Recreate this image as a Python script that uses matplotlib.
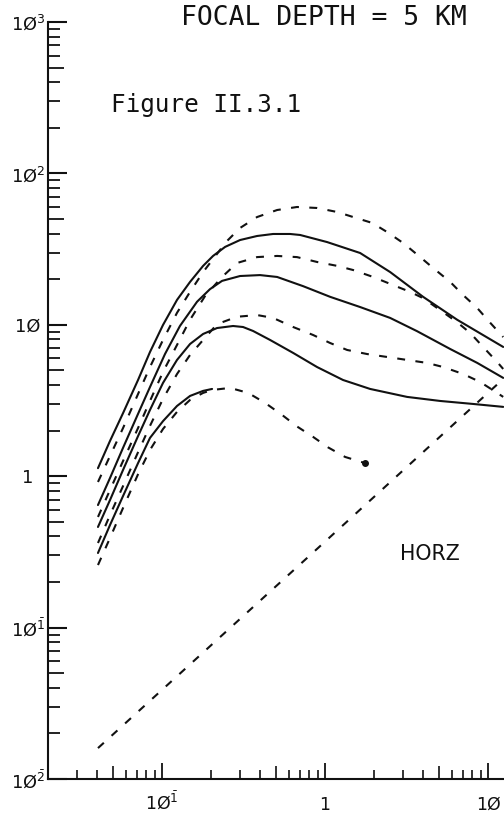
import math
import matplotlib
matplotlib.use("Agg")
import matplotlib.pyplot as plt
from matplotlib.ticker import FixedLocator, FixedFormatter, NullFormatter

# ---- spectral amplitude curves (frequency, amplitude) ----
s1_x = [0.0405, 0.0480, 0.0577, 0.0713, 0.0844, 0.1014, 0.1236, 0.1486, 0.1787,
        0.2056, 0.2438, 0.301, 0.3828, 0.480, 0.610, 0.703, 1.028, 1.640,
        2.506, 3.99, 6.45, 12.36]
s1_y = [1.13, 1.71, 2.61, 4.32, 6.61, 9.97, 14.6, 19.2, 24.5,
        28.5, 32.7, 36.3, 38.6, 39.8, 39.8, 39.2, 35.2, 29.8,
        22.3, 15.3, 10.8, 7.14]

d1_x = [0.0405, 0.0480, 0.0577, 0.0713, 0.0844, 0.1014, 0.1236, 0.1486, 0.1787,
        0.2056, 0.2506, 0.301, 0.3828, 0.508, 0.673, 0.893, 1.186, 1.486,
        1.942, 2.40, 3.01, 3.83, 4.60, 5.85, 7.03, 8.57, 10.3, 12.36]
d1_y = [0.916, 1.36, 2.08, 3.49, 5.26, 7.94, 12.0, 16.5, 22.3,
        27.2, 35.8, 43.6, 51.5, 57.3, 60.0, 59.1, 55.6, 51.5,
        47.1, 41.0, 34.7, 28.0, 23.7, 19.2, 15.7, 12.9, 10.3, 8.30]

s2_x = [0.0405, 0.0480, 0.0577, 0.0713, 0.0844, 0.1043, 0.1288, 0.1640, 0.1969,
        0.2334, 0.301, 0.399, 0.508, 0.733, 1.074, 1.640, 2.506, 3.66,
        5.85, 8.57, 12.36]
s2_y = [0.645, 0.973, 1.54, 2.58, 3.88, 6.41, 9.82, 14.2, 17.2,
        19.5, 21.0, 21.3, 20.7, 18.0, 15.3, 13.1, 11.1, 9.08,
        6.92, 5.60, 4.46]

d2_x = [0.0405, 0.0480, 0.0577, 0.0713, 0.0844, 0.1014, 0.1236, 0.1486, 0.1837,
        0.2334, 0.2884, 0.3828, 0.508, 0.673, 0.893, 1.186, 1.486, 1.97,
        2.61, 3.32, 3.99, 5.08, 6.45, 7.76, 9.32, 11.35, 12.36]
d2_y = [0.538, 0.811, 1.26, 2.08, 3.14, 4.88, 7.36, 10.8, 15.5,
        20.7, 25.6, 28.0, 28.5, 28.0, 26.0, 24.5, 23.0, 20.7,
        18.3, 16.5, 15.0, 12.5, 10.4, 8.83, 7.13, 5.68, 5.11]

s3_x = [0.0405, 0.0480, 0.0577, 0.0713, 0.0844, 0.1014, 0.1236, 0.1486, 0.1787,
        0.2175, 0.2727, 0.314, 0.362, 0.460, 0.637, 0.893, 1.288, 1.888,
        3.18, 5.08, 8.09, 12.36]
s3_y = [0.462, 0.696, 1.10, 1.84, 2.74, 4.13, 5.86, 7.47, 8.70,
        9.52, 9.82, 9.67, 9.10, 7.94, 6.52, 5.26, 4.32, 3.77,
        3.34, 3.14, 3.00, 2.87]

d3_x = [0.0405, 0.0480, 0.0577, 0.0713, 0.0844, 0.1014, 0.1236, 0.1486, 0.1787,
        0.2175, 0.2884, 0.3828, 0.480, 0.637, 0.843, 1.074, 1.365, 1.81,
        2.40, 3.18, 4.22, 5.30, 7.03, 8.93, 11.35, 12.36]
d3_y = [0.362, 0.554, 0.861, 1.44, 2.15, 3.24, 4.73, 6.32, 7.94,
        10.1, 11.3, 11.6, 11.1, 9.67, 8.57, 7.58, 6.82, 6.41,
        6.13, 5.86, 5.60, 5.26, 4.73, 4.19, 3.55, 3.34]

s4_x = [0.0405, 0.0480, 0.0577, 0.0713, 0.0844, 0.1014, 0.1236, 0.1486, 0.1787,
        0.2028]
s4_y = [0.311, 0.476, 0.740, 1.22, 1.79, 2.31, 2.91, 3.39, 3.66,
        3.77]

d4_x = [0.0405, 0.0480, 0.0577, 0.0713, 0.0844, 0.1014, 0.1236, 0.1486, 0.1787,
        0.2028, 0.2612, 0.3373, 0.4285, 0.5445, 0.673, 0.843, 1.043, 1.327,
        1.76]
d4_y = [0.259, 0.391, 0.617, 1.03, 1.49, 2.05, 2.66, 3.19, 3.55,
        3.71, 3.83, 3.55, 3.05, 2.54, 2.13, 1.82, 1.55, 1.34,
        1.22]

# straight reference line
d5_x = [0.0405, 1.0, 12.4]
d5_y = [0.016, 0.37, 4.4]

# ---- axis ticks and labels ----
x_major = [0.1, 1, 10]
x_major_labels = [r'1Ø$^{\bar{1}}$', '1', '1Ø']
x_minor = [m * 10.0 ** k for k in (-2, -1, 0) for m in range(2, 10)]
y_major = [0.01, 0.1, 1, 10, 100, 1000]
y_major_labels = [r'1Ø$^{\bar{2}}$', r'1Ø$^{\bar{1}}$', '1', '1Ø',
                  '1Ø$^{2}$', '1Ø$^{3}$']
y_minor = [m * 10.0 ** k for k in (-2, -1, 0, 1, 2) for m in range(2, 10)]

X_LIM = (0.02, 12.5)
Y_LIM = (0.01, 1000)

fig = plt.figure(figsize=(5.04, 8.17), dpi=100)
fig.patch.set_facecolor('white')
ax = fig.add_axes([48 / 504, 38 / 817, 456 / 504, 757 / 817])
ax.set_xscale('log')
ax.set_yscale('log')
ax.set_xlim(*X_LIM)
ax.set_ylim(*Y_LIM)

ink = '#111111'
LW = 1.5
dash = (0, (3.8, 5.0))

for xs, ys in [(s1_x, s1_y), (s2_x, s2_y), (s3_x, s3_y), (s4_x, s4_y)]:
    ax.plot(xs, ys, color=ink, lw=LW, solid_joinstyle='round',
            solid_capstyle='round')
for xs, ys in [(d1_x, d1_y), (d2_x, d2_y), (d3_x, d3_y), (d4_x, d4_y),
               (d5_x, d5_y)]:
    ax.plot(xs, ys, color=ink, lw=LW, linestyle=dash, dash_capstyle='butt')
# pen stop at the end of the lowest dashed curve
ax.plot([d4_x[-1]], [d4_y[-1]], 'o', color=ink, ms=4)

# spines
for side in ('top', 'right'):
    ax.spines[side].set_visible(False)
for side in ('left', 'bottom'):
    ax.spines[side].set_linewidth(1.5)
    ax.spines[side].set_color(ink)

# x ticks
ax.xaxis.set_major_locator(FixedLocator(x_major))
ax.xaxis.set_major_formatter(FixedFormatter(x_major_labels))
ax.xaxis.set_minor_locator(FixedLocator(x_minor))
ax.xaxis.set_minor_formatter(NullFormatter())
ax.tick_params(axis='x', which='major', direction='in', length=11.5,
               width=1.3, color=ink, pad=22, labelsize=12.5, labelcolor=ink)
ax.tick_params(axis='x', which='minor', direction='in', length=6.5,
               width=1.2, color=ink)
for lab in ax.get_xticklabels():
    lab.set_va('baseline')

# y ticks
ax.yaxis.set_major_locator(FixedLocator(y_major))
ax.yaxis.set_major_formatter(FixedFormatter(y_major_labels))
ax.yaxis.set_minor_locator(FixedLocator(y_minor))
ax.yaxis.set_minor_formatter(NullFormatter())
ax.tick_params(axis='y', which='major', direction='in', length=13.7,
               width=1.5, color=ink, pad=14.4, labelsize=12.8, labelcolor=ink)
ax.tick_params(axis='y', which='minor', direction='in', length=8.6,
               width=1.3, color=ink)
for lab in ax.get_yticklabels():
    lab.set_ha('center')


def is_five(v):
    """True for 5, 50, 0.05, ... (the mid-decade ticks)."""
    mant = v / 10 ** math.floor(math.log10(v) + 1e-9)
    return abs(mant - 5) < 1e-6


# the mid-decade ticks are drawn a little longer
for t, v in zip(ax.xaxis.get_minor_ticks(len(x_minor)), x_minor):
    if is_five(v):
        t.tick1line.set_markersize(9.5)
for t, v in zip(ax.yaxis.get_minor_ticks(len(y_minor)), y_minor):
    if is_five(v):
        t.tick1line.set_markersize(11.5)

# annotations
fig.text(181 / 504, 1 - 25 / 817, 'FOCAL DEPTH = 5 KM', family='DejaVu Sans Mono',
         fontsize=19, ha='left', va='baseline', color=ink)
fig.text(111 / 504, 1 - 112 / 817, 'Figure II.3.1', family='DejaVu Sans Mono',
         fontsize=17.5, ha='left', va='baseline', color=ink)
fig.text(400 / 504, 1 - 560 / 817, 'HORZ', family='DejaVu Sans',
         fontsize=14.8, ha='left', va='baseline', color=ink)

fig.savefig('out.png', dpi=100, facecolor='white')
